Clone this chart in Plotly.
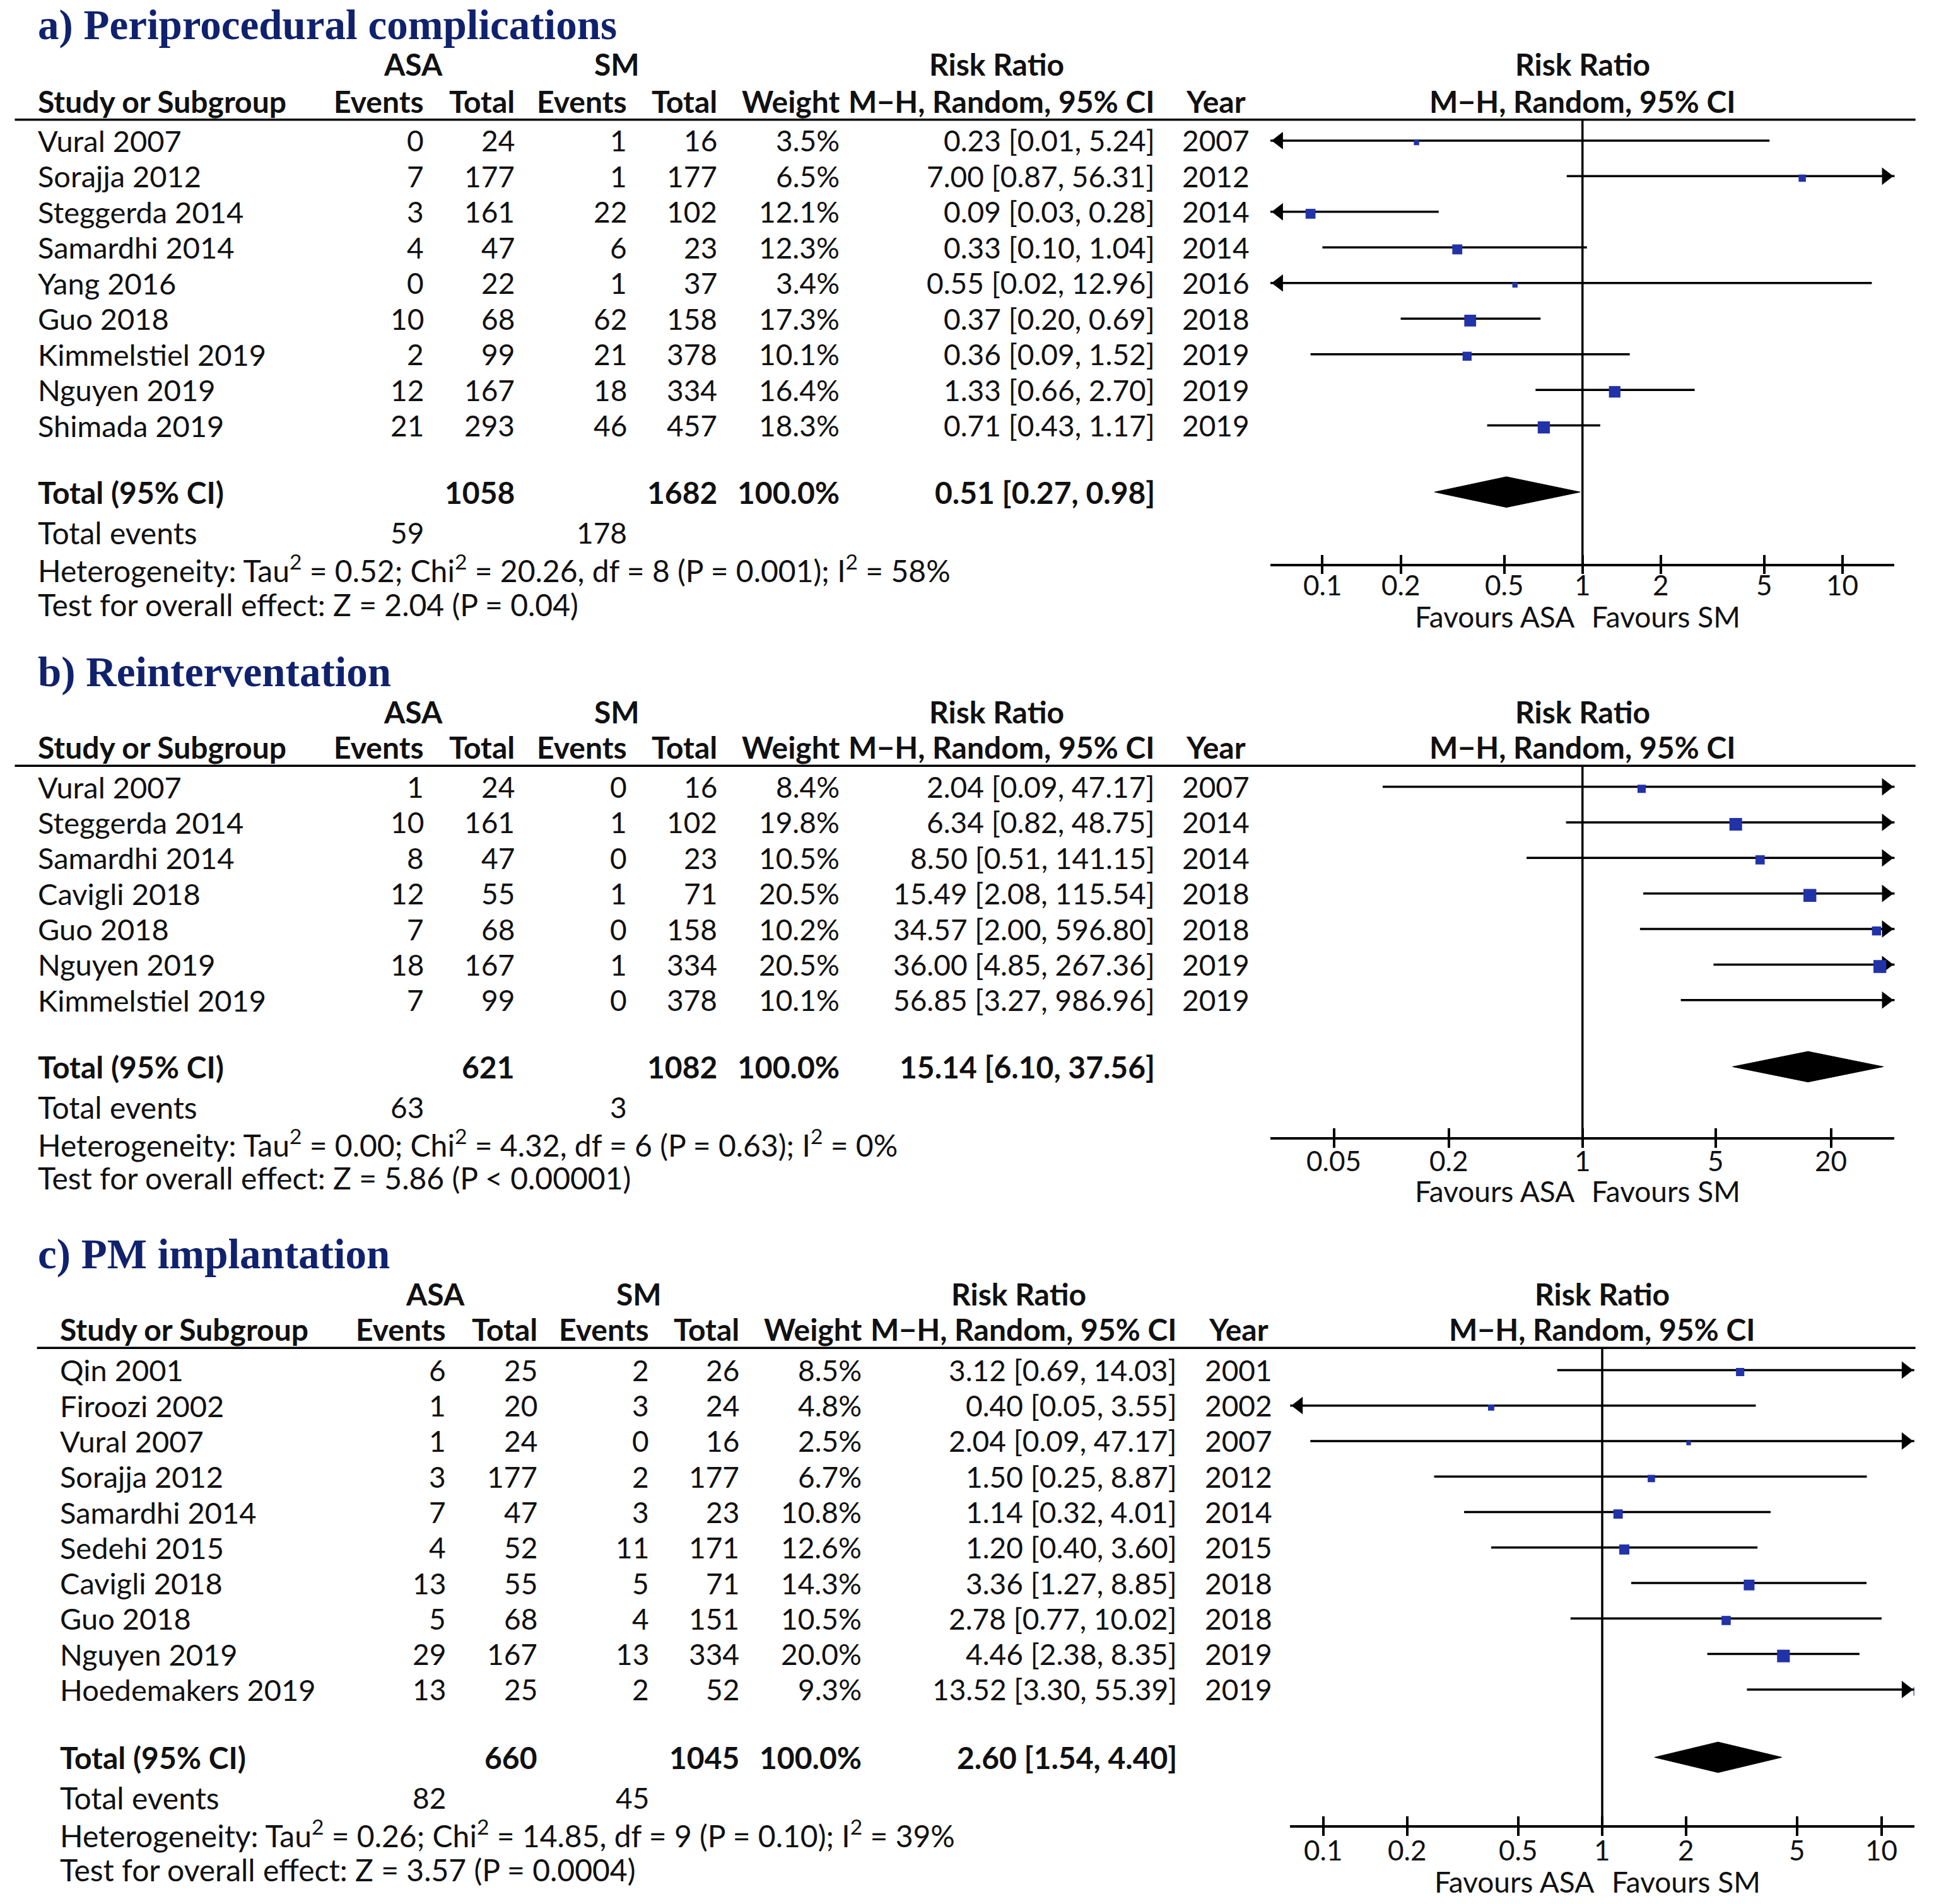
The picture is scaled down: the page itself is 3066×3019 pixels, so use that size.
import math
import plotly.graph_objects as go

W, H = 3066, 3019
S = W / 1568.0          # layout positions below are given on a 1568-wide grid

FONT = "Lato"
TITLE_FONT = "Liberation Serif"
NUM = 46        # numbers
NAME = 47       # study names
BOLD = 48       # bold headers / totals
NOTE = 48       # heterogeneity / test lines
TICK = 44
TITLE_SIZE = 67
TXT = "#111111"
TITLE_COL = "#10226e"
SQ_COL = "#2232a8"

# ---------------- data: a) Periprocedural complications ----------------
a_study = ["Vural 2007", "Sorajja 2012", "Steggerda 2014", "Samardhi 2014", "Yang 2016",
           "Guo 2018", "Kimmelstiel 2019", "Nguyen 2019", "Shimada 2019"]
a_asa_ev = [0, 7, 3, 4, 0, 10, 2, 12, 21]
a_asa_tot = [24, 177, 161, 47, 22, 68, 99, 167, 293]
a_sm_ev = [1, 1, 22, 6, 1, 62, 21, 18, 46]
a_sm_tot = [16, 177, 102, 23, 37, 158, 378, 334, 457]
a_weight = [3.5, 6.5, 12.1, 12.3, 3.4, 17.3, 10.1, 16.4, 18.3]
a_rr = [0.23, 7.00, 0.09, 0.33, 0.55, 0.37, 0.36, 1.33, 0.71]
a_lo = [0.01, 0.87, 0.03, 0.10, 0.02, 0.20, 0.09, 0.66, 0.43]
a_hi = [5.24, 56.31, 0.28, 1.04, 12.96, 0.69, 1.52, 2.70, 1.17]
a_year = [2007, 2012, 2014, 2014, 2016, 2018, 2019, 2019, 2019]
a_tot_n = [1058, 1682]
a_tot_ci = [0.51, 0.27, 0.98]
a_tot_ev = [59, 178]
a_het = "Heterogeneity: Tau<sup>2</sup> = 0.52; Chi<sup>2</sup> = 20.26, df = 8 (P = 0.001); I<sup>2</sup> = 58%"
a_test = "Test for overall effect: Z = 2.04 (P = 0.04)"
a_ticks = [0.1, 0.2, 0.5, 1, 2, 5, 10]
a_ticklabels = ["0.1", "0.2", "0.5", "1", "2", "5", "10"]

# ---------------- data: b) Reinterventation ----------------
b_study = ["Vural 2007", "Steggerda 2014", "Samardhi 2014", "Cavigli 2018", "Guo 2018",
           "Nguyen 2019", "Kimmelstiel 2019"]
b_asa_ev = [1, 10, 8, 12, 7, 18, 7]
b_asa_tot = [24, 161, 47, 55, 68, 167, 99]
b_sm_ev = [0, 1, 0, 1, 0, 1, 0]
b_sm_tot = [16, 102, 23, 71, 158, 334, 378]
b_weight = [8.4, 19.8, 10.5, 20.5, 10.2, 20.5, 10.1]
b_rr = [2.04, 6.34, 8.50, 15.49, 34.57, 36.00, 56.85]
b_lo = [0.09, 0.82, 0.51, 2.08, 2.00, 4.85, 3.27]
b_hi = [47.17, 48.75, 141.15, 115.54, 596.80, 267.36, 986.96]
b_year = [2007, 2014, 2014, 2018, 2018, 2019, 2019]
b_tot_n = [621, 1082]
b_tot_ci = [15.14, 6.10, 37.56]
b_tot_ev = [63, 3]
b_het = "Heterogeneity: Tau<sup>2</sup> = 0.00; Chi<sup>2</sup> = 4.32, df = 6 (P = 0.63); I<sup>2</sup> = 0%"
b_test = "Test for overall effect: Z = 5.86 (P < 0.00001)"
b_ticks = [0.05, 0.2, 1, 5, 20]
b_ticklabels = ["0.05", "0.2", "1", "5", "20"]

# ---------------- data: c) PM implantation ----------------
c_study = ["Qin 2001", "Firoozi 2002", "Vural 2007", "Sorajja 2012", "Samardhi 2014",
           "Sedehi 2015", "Cavigli 2018", "Guo 2018", "Nguyen 2019", "Hoedemakers 2019"]
c_asa_ev = [6, 1, 1, 3, 7, 4, 13, 5, 29, 13]
c_asa_tot = [25, 20, 24, 177, 47, 52, 55, 68, 167, 25]
c_sm_ev = [2, 3, 0, 2, 3, 11, 5, 4, 13, 2]
c_sm_tot = [26, 24, 16, 177, 23, 171, 71, 151, 334, 52]
c_weight = [8.5, 4.8, 2.5, 6.7, 10.8, 12.6, 14.3, 10.5, 20.0, 9.3]
c_rr = [3.12, 0.40, 2.04, 1.50, 1.14, 1.20, 3.36, 2.78, 4.46, 13.52]
c_lo = [0.69, 0.05, 0.09, 0.25, 0.32, 0.40, 1.27, 0.77, 2.38, 3.30]
c_hi = [14.03, 3.55, 47.17, 8.87, 4.01, 3.60, 8.85, 10.02, 8.35, 55.39]
c_year = [2001, 2002, 2007, 2012, 2014, 2015, 2018, 2018, 2019, 2019]
c_tot_n = [660, 1045]
c_tot_ci = [2.60, 1.54, 4.40]
c_tot_ev = [82, 45]
c_het = "Heterogeneity: Tau<sup>2</sup> = 0.26; Chi<sup>2</sup> = 14.85, df = 9 (P = 0.10); I<sup>2</sup> = 39%"
c_test = "Test for overall effect: Z = 3.57 (P = 0.0004)"
c_ticks = [0.1, 0.2, 0.5, 1, 2, 5, 10]
c_ticklabels = ["0.1", "0.2", "0.5", "1", "2", "5", "10"]

# ---------------- layout geometry (1568-wide grid) ----------------
geo_a = dict(title_y=20, h1=52, h2=82, line_y=97, line_x0=12, row0=114, dy=28.875,
             total_y=399, tev_y=432, het_y=461, test_y=490, ax_y=457, tick_y=474, fav_y=500,
             xoff=0, fx0=1030, fx1=1536, half=1.2)
geo_b = dict(title_y=545, h1=577, h2=606, line_y=621, line_x0=12, row0=638, dy=28.83,
             total_y=865, tev_y=898, het_y=927, test_y=955, ax_y=922, tick_y=941, fav_y=966,
             xoff=0, fx0=1030, fx1=1536, half=1.633)
geo_c = dict(title_y=1017, h1=1049, h2=1078, line_y=1093, line_x0=30, row0=1111, dy=28.78,
             total_y=1425, tev_y=1458, het_y=1487, test_y=1516, ax_y=1480, tick_y=1500, fav_y=1526,
             xoff=18, fx0=1046, fx1=1552, half=1.118)
cols = dict(name=30, asa_ev=344, asa_tot=418, sm_ev=509, sm_tot=582, w=681, ci=937,
            year=986, asa_hdr=335, sm_hdr=500, rr=808)

fig = go.Figure()
annotations = []
shapes = []


def px_x(xd):
    return xd * S / W


def px_y(yd):
    return 1 - yd * S / H


def txt(xd, yd, s, anchor="left", bold=False, size=NUM, color=TXT, family=FONT):
    annotations.append(dict(
        x=px_x(xd), y=px_y(yd), xref="paper", yref="paper", text=s, showarrow=False,
        xanchor=anchor, yanchor="middle", borderpad=0,
        font=dict(family=family, size=size, color=color, weight="bold" if bold else "normal")))


def ci_text(r, l, h):
    return f"{r:.2f} [{l:.2f}, {h:.2f}]"


def panel(k, g, title, study, asa_ev, asa_tot, sm_ev, sm_tot, weight, rr, lo, hi, year,
          tot_n, tot_ci, tot_ev, het, test, ticks, ticklabels):
    o = g["xoff"]
    c = {key: v + o for key, v in cols.items()}
    # title
    txt(30, g["title_y"], title, bold=True, size=TITLE_SIZE, color=TITLE_COL, family=TITLE_FONT)
    # headers
    fc = (g["fx0"] + g["fx1"]) / 2
    txt(c["asa_hdr"], g["h1"], "ASA", "center", True, BOLD)
    txt(c["sm_hdr"], g["h1"], "SM", "center", True, BOLD)
    txt(c["rr"], g["h1"], "Risk Ratio", "center", True, BOLD)
    txt(fc, g["h1"], "Risk Ratio", "center", True, BOLD)
    txt(c["name"], g["h2"], "Study or Subgroup", "left", True, BOLD)
    txt(c["asa_ev"], g["h2"], "Events", "right", True, BOLD)
    txt(c["asa_tot"], g["h2"], "Total", "right", True, BOLD)
    txt(c["sm_ev"], g["h2"], "Events", "right", True, BOLD)
    txt(c["sm_tot"], g["h2"], "Total", "right", True, BOLD)
    txt(c["w"], g["h2"], "Weight", "right", True, BOLD)
    txt(c["ci"], g["h2"], "M\u2212H, Random, 95% CI", "right", True, BOLD)
    txt(c["year"], g["h2"], "Year", "center", True, BOLD)
    txt(fc, g["h2"], "M\u2212H, Random, 95% CI", "center", True, BOLD)
    shapes.append(dict(type="line", xref="paper", yref="paper",
                       x0=px_x(g["line_x0"]), x1=px_x(1553),
                       y0=px_y(g["line_y"]), y1=px_y(g["line_y"]),
                       line=dict(color="black", width=3.5)))
    ys = [g["row0"] + i * g["dy"] for i in range(len(study))]
    for i, y in enumerate(ys):
        txt(c["name"], y, study[i], size=NAME)
        txt(c["asa_ev"], y, str(asa_ev[i]), "right")
        txt(c["asa_tot"], y, str(asa_tot[i]), "right")
        txt(c["sm_ev"], y, str(sm_ev[i]), "right")
        txt(c["sm_tot"], y, str(sm_tot[i]), "right")
        txt(c["w"], y, f"{weight[i]:.1f}%", "right")
        txt(c["ci"], y, ci_text(rr[i], lo[i], hi[i]), "right")
        txt(c["year"], y, str(year[i]), "center")
    # total rows
    ty = g["total_y"]
    txt(c["name"], ty, "Total (95% CI)", "left", True, BOLD)
    txt(c["asa_tot"], ty, str(tot_n[0]), "right", True, BOLD)
    txt(c["sm_tot"], ty, str(tot_n[1]), "right", True, BOLD)
    txt(c["w"], ty, "100.0%", "right", True, BOLD)
    txt(c["ci"], ty, ci_text(*tot_ci), "right", True, BOLD)
    txt(c["name"], g["tev_y"], "Total events", size=NOTE)
    txt(c["asa_ev"], g["tev_y"], str(tot_ev[0]), "right")
    txt(c["sm_ev"], g["tev_y"], str(tot_ev[1]), "right")
    txt(c["name"], g["het_y"], het, size=NOTE)
    txt(c["name"], g["test_y"], test, size=NOTE)

    # ---------- forest plot ----------
    xa = "x" if k == 1 else f"x{k}"
    ya = "y" if k == 1 else f"y{k}"
    half = g["half"]
    dom_px = (g["fx1"] - g["fx0"]) * S
    px_per_dec = dom_px / (2 * half)
    fig.update_layout({
        ("xaxis" if k == 1 else f"xaxis{k}"): dict(
            type="log", range=[-half, half], domain=[px_x(g["fx0"]), px_x(g["fx1"])],
            anchor=ya, showline=True, linecolor="black", linewidth=3.5, showgrid=False,
            zeroline=False, tickmode="array", tickvals=ticks, showticklabels=False,
            ticks="outside", ticklen=13, tickwidth=3.5, tickcolor="black",
            minor=dict(tickmode="array", tickvals=ticks, ticks="inside", ticklen=14,
                       tickwidth=3.5, tickcolor="black", showgrid=False),
            fixedrange=True),
        ("yaxis" if k == 1 else f"yaxis{k}"): dict(
            range=[g["ax_y"], g["line_y"]], domain=[px_y(g["ax_y"]), px_y(g["line_y"])],
            anchor=xa, visible=False, showgrid=False, zeroline=False, fixedrange=True),
    })
    # tick labels
    for v, lab in zip(ticks, ticklabels):
        annotations.append(dict(x=math.log10(v), xref=xa, y=px_y(g["tick_y"]), yref="paper",
                                text=lab, showarrow=False, xanchor="center", yanchor="middle",
                                borderpad=0, font=dict(family=FONT, size=TICK, color=TXT)))
    # line of no effect
    fig.add_trace(go.Scatter(x=[1, 1], y=[g["ax_y"], g["line_y"]], mode="lines",
                             line=dict(color="black", width=3.5), xaxis=xa, yaxis=ya,
                             hoverinfo="skip", showlegend=False))
    # CI lines
    lx, ly = [], []
    for i, y in enumerate(ys):
        lx += [lo[i], hi[i], None]
        ly += [y, y, None]
    fig.add_trace(go.Scatter(x=lx, y=ly, mode="lines", line=dict(color="black", width=3.5),
                             xaxis=xa, yaxis=ya, hoverinfo="skip", showlegend=False))
    # arrows where CI leaves the axis range
    asz = 24
    tip = 1.155 * asz / 2
    off = tip / px_per_dec
    lxa, lya, rxa, rya = [], [], [], []
    for i, y in enumerate(ys):
        if math.log10(lo[i]) < -half:
            lxa.append(10 ** (-half + off)); lya.append(y)
        if math.log10(hi[i]) > half:
            rxa.append(10 ** (half - off)); rya.append(y)
    fig.add_trace(go.Scatter(x=lxa, y=lya, mode="markers",
                             marker=dict(symbol="triangle-left", size=asz, color="black",
                                         line=dict(width=0)),
                             xaxis=xa, yaxis=ya, hoverinfo="skip", showlegend=False))
    fig.add_trace(go.Scatter(x=rxa, y=rya, mode="markers",
                             marker=dict(symbol="triangle-right", size=asz, color="black",
                                         line=dict(width=0)),
                             xaxis=xa, yaxis=ya, hoverinfo="skip", showlegend=False))
    # study squares (side ~ sqrt(weight)), drawn slightly below the CI line as in RevMan
    fig.add_trace(go.Scatter(x=rr, y=[y + 1.6 for y in ys], mode="markers", cliponaxis=True,
                             marker=dict(symbol="square", color=SQ_COL, opacity=1,
                                         size=[4.5 * math.sqrt(w) for w in weight],
                                         line=dict(width=0)),
                             xaxis=xa, yaxis=ya, hoverinfo="skip", showlegend=False))
    # pooled diamond
    hh = 0.43 * g["dy"]
    fig.add_trace(go.Scatter(x=[tot_ci[1], tot_ci[0], tot_ci[2], tot_ci[0], tot_ci[1]],
                             y=[ty, ty - hh, ty, ty + hh, ty], mode="lines", fill="toself",
                             fillcolor="black", line=dict(color="black", width=1),
                             xaxis=xa, yaxis=ya, hoverinfo="skip", showlegend=False))
    # favours labels
    for s, anc, sh in [("Favours ASA", "right", -6), ("Favours SM", "left", 7)]:
        annotations.append(dict(x=0, xref=xa, y=px_y(g["fav_y"]), yref="paper", text=s,
                                showarrow=False, xanchor=anc, yanchor="middle", xshift=sh * S,
                                borderpad=0, font=dict(family=FONT, size=NUM, color=TXT)))


panel(1, geo_a, "a) Periprocedural complications", a_study, a_asa_ev, a_asa_tot, a_sm_ev,
      a_sm_tot, a_weight, a_rr, a_lo, a_hi, a_year, a_tot_n, a_tot_ci, a_tot_ev, a_het,
      a_test, a_ticks, a_ticklabels)
panel(2, geo_b, "b) Reinterventation", b_study, b_asa_ev, b_asa_tot, b_sm_ev,
      b_sm_tot, b_weight, b_rr, b_lo, b_hi, b_year, b_tot_n, b_tot_ci, b_tot_ev, b_het,
      b_test, b_ticks, b_ticklabels)
panel(3, geo_c, "c) PM implantation", c_study, c_asa_ev, c_asa_tot, c_sm_ev,
      c_sm_tot, c_weight, c_rr, c_lo, c_hi, c_year, c_tot_n, c_tot_ci, c_tot_ev, c_het,
      c_test, c_ticks, c_ticklabels)

fig.update_layout(width=W, height=H, margin=dict(l=0, r=0, t=0, b=0),
                  paper_bgcolor="white", plot_bgcolor="white",
                  annotations=annotations, shapes=shapes, showlegend=False)
fig.write_html("out.html", config={"displayModeBar": False},
               post_script="document.body.style.margin='0px';")
